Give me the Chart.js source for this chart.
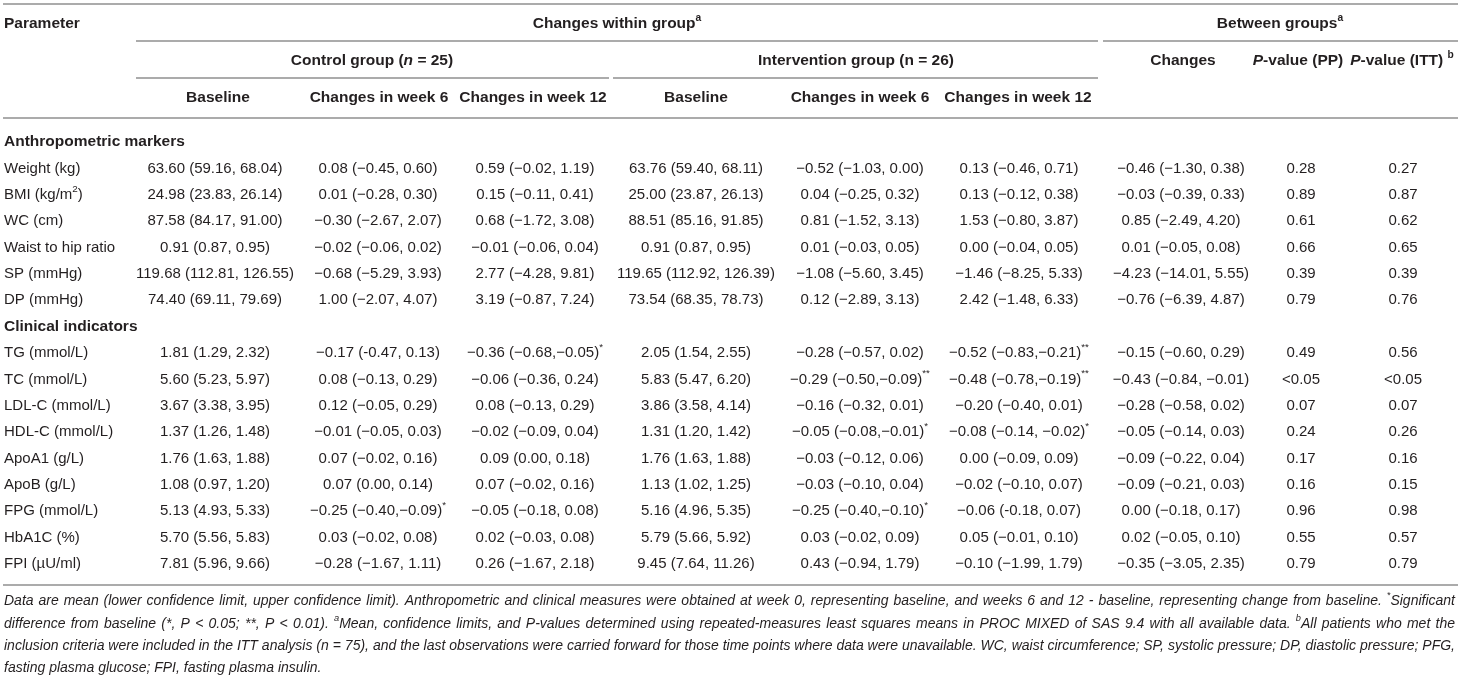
<!DOCTYPE html>
<html>
<head>
<meta charset="utf-8">
<style>
  html, body { margin: 0; background: #fff; }
  canvas { display: block; }
</style>
</head>
<body>
<canvas id="table" width="1461" height="677"></canvas>
<script src="https://cdn.jsdelivr.net/npm/chart.js@4/dist/chart.umd.min.js"></script>
<script>
// rows of the table (section headings are rows too, with no values)
const sections = ["Anthropometric markers", "Clinical indicators"];
const parameters = [
  "Anthropometric markers",
  "Weight (kg)", "BMI (kg/m^{2})", "WC (cm)", "Waist to hip ratio", "SP (mmHg)", "DP (mmHg)",
  "Clinical indicators",
  "TG (mmol/L)", "TC (mmol/L)", "LDL-C (mmol/L)", "HDL-C (mmol/L)", "ApoA1 (g/L)", "ApoB (g/L)",
  "FPG (mmol/L)", "HbA1C (%)", "FPI (\u00b5U/ml)"
];

// mean (lower, upper) per column, ^{} marks superscript
const ctrlBaseline = [null,
  "63.60 (59.16, 68.04)", "24.98 (23.83, 26.14)", "87.58 (84.17, 91.00)", "0.91 (0.87, 0.95)",
  "119.68 (112.81, 126.55)", "74.40 (69.11, 79.69)", null,
  "1.81 (1.29, 2.32)", "5.60 (5.23, 5.97)", "3.67 (3.38, 3.95)", "1.37 (1.26, 1.48)",
  "1.76 (1.63, 1.88)", "1.08 (0.97, 1.20)", "5.13 (4.93, 5.33)", "5.70 (5.56, 5.83)", "7.81 (5.96, 9.66)"];
const ctrlWeek6 = [null,
  "0.08 (\u22120.45, 0.60)", "0.01 (\u22120.28, 0.30)", "\u22120.30 (\u22122.67, 2.07)", "\u22120.02 (\u22120.06, 0.02)",
  "\u22120.68 (\u22125.29, 3.93)", "1.00 (\u22122.07, 4.07)", null,
  "\u22120.17 (-0.47, 0.13)", "0.08 (\u22120.13, 0.29)", "0.12 (\u22120.05, 0.29)", "\u22120.01 (\u22120.05, 0.03)",
  "0.07 (\u22120.02, 0.16)", "0.07 (0.00, 0.14)", "\u22120.25 (\u22120.40,\u22120.09)^{*}", "0.03 (\u22120.02, 0.08)",
  "\u22120.28 (\u22121.67, 1.11)"];
const ctrlWeek12 = [null,
  "0.59 (\u22120.02, 1.19)", "0.15 (\u22120.11, 0.41)", "0.68 (\u22121.72, 3.08)", "\u22120.01 (\u22120.06, 0.04)",
  "2.77 (\u22124.28, 9.81)", "3.19 (\u22120.87, 7.24)", null,
  "\u22120.36 (\u22120.68,\u22120.05)^{*}", "\u22120.06 (\u22120.36, 0.24)", "0.08 (\u22120.13, 0.29)", "\u22120.02 (\u22120.09, 0.04)",
  "0.09 (0.00, 0.18)", "0.07 (\u22120.02, 0.16)", "\u22120.05 (\u22120.18, 0.08)", "0.02 (\u22120.03, 0.08)",
  "0.26 (\u22121.67, 2.18)"];
const intBaseline = [null,
  "63.76 (59.40, 68.11)", "25.00 (23.87, 26.13)", "88.51 (85.16, 91.85)", "0.91 (0.87, 0.95)",
  "119.65 (112.92, 126.39)", "73.54 (68.35, 78.73)", null,
  "2.05 (1.54, 2.55)", "5.83 (5.47, 6.20)", "3.86 (3.58, 4.14)", "1.31 (1.20, 1.42)",
  "1.76 (1.63, 1.88)", "1.13 (1.02, 1.25)", "5.16 (4.96, 5.35)", "5.79 (5.66, 5.92)", "9.45 (7.64, 11.26)"];
const intWeek6 = [null,
  "\u22120.52 (\u22121.03, 0.00)", "0.04 (\u22120.25, 0.32)", "0.81 (\u22121.52, 3.13)", "0.01 (\u22120.03, 0.05)",
  "\u22121.08 (\u22125.60, 3.45)", "0.12 (\u22122.89, 3.13)", null,
  "\u22120.28 (\u22120.57, 0.02)", "\u22120.29 (\u22120.50,\u22120.09)^{**}", "\u22120.16 (\u22120.32, 0.01)", "\u22120.05 (\u22120.08,\u22120.01)^{*}",
  "\u22120.03 (\u22120.12, 0.06)", "\u22120.03 (\u22120.10, 0.04)", "\u22120.25 (\u22120.40,\u22120.10)^{*}", "0.03 (\u22120.02, 0.09)",
  "0.43 (\u22120.94, 1.79)"];
const intWeek12 = [null,
  "0.13 (\u22120.46, 0.71)", "0.13 (\u22120.12, 0.38)", "1.53 (\u22120.80, 3.87)", "0.00 (\u22120.04, 0.05)",
  "\u22121.46 (\u22128.25, 5.33)", "2.42 (\u22121.48, 6.33)", null,
  "\u22120.52 (\u22120.83,\u22120.21)^{**}", "\u22120.48 (\u22120.78,\u22120.19)^{**}", "\u22120.20 (\u22120.40, 0.01)", "\u22120.08 (\u22120.14, \u22120.02)^{*}",
  "0.00 (\u22120.09, 0.09)", "\u22120.02 (\u22120.10, 0.07)", "\u22120.06 (-0.18, 0.07)", "0.05 (\u22120.01, 0.10)",
  "\u22120.10 (\u22121.99, 1.79)"];
const betweenChanges = [null,
  "\u22120.46 (\u22121.30, 0.38)", "\u22120.03 (\u22120.39, 0.33)", "0.85 (\u22122.49, 4.20)", "0.01 (\u22120.05, 0.08)",
  "\u22124.23 (\u221214.01, 5.55)", "\u22120.76 (\u22126.39, 4.87)", null,
  "\u22120.15 (\u22120.60, 0.29)", "\u22120.43 (\u22120.84, \u22120.01)", "\u22120.28 (\u22120.58, 0.02)", "\u22120.05 (\u22120.14, 0.03)",
  "\u22120.09 (\u22120.22, 0.04)", "\u22120.09 (\u22120.21, 0.03)", "0.00 (\u22120.18, 0.17)", "0.02 (\u22120.05, 0.10)",
  "\u22120.35 (\u22123.05, 2.35)"];
const pValuePP = [null, "0.28", "0.89", "0.61", "0.66", "0.39", "0.79", null,
  "0.49", "<0.05", "0.07", "0.24", "0.17", "0.16", "0.96", "0.55", "0.79"];
const pValueITT = [null, "0.27", "0.87", "0.62", "0.65", "0.39", "0.76", null,
  "0.56", "<0.05", "0.07", "0.26", "0.16", "0.15", "0.98", "0.57", "0.79"];

// header texts, _{} marks italic
const groupHeads = ["Changes within group^{a}", "Between groups^{a}"];
const subHeads = ["Control group (_{n} = 25)", "Intervention group (n = 26)", "Changes", "_{P}-value (PP)", "_{P}-value (ITT) ^{b}"];
const colHeads = ["Baseline", "Changes in week 6", "Changes in week 12", "Baseline", "Changes in week 6", "Changes in week 12"];

const notes = [
  "Data are mean (lower confidence limit, upper confidence limit). Anthropometric and clinical measures were obtained at week 0, representing baseline, and weeks 6 and 12 - baseline, representing change from baseline. ^{*}Significant",
  "difference from baseline (*, P < 0.05; **, P < 0.01). ^{a}Mean, confidence limits, and P-values determined using repeated-measures least squares means in PROC MIXED of SAS 9.4 with all available data. ^{b}All patients who met the",
  "inclusion criteria were included in the ITT analysis (n = 75), and the last observations were carried forward for those time points where data were unavailable. WC, waist circumference; SP, systolic pressure; DP, diastolic pressure; PFG,",
  "fasting plasma glucose; FPI, fasting plasma insulin."
];

// layout
const FAMILY = '"Liberation Sans", Arial, Helvetica, sans-serif';
const INK = "#231f20";
const RULE = "#ababab";
const W = 1461, H = 677;
const valueCols = [ctrlBaseline, ctrlWeek6, ctrlWeek12, intBaseline, intWeek6, intWeek12, betweenChanges, pValuePP, pValueITT];
const colCenter = [215, 378, 535, 696, 860, 1019, 1181, 1301, 1403];
const colHeadCenter = [218, 379, 533, 696, 860, 1018];
const subHeadCenter = [372, 856, 1183, 1298, 1402];
const groupHeadCenter = [617, 1280];
const rowTop = 128.8, rowStep = 26.375;
const noteY = [601, 624, 646, 668];

function tokens(s) {
  const out = [];
  const re = /\^\{(.*?)\}|_\{(.*?)\}/g;
  let last = 0, m;
  while ((m = re.exec(s))) {
    if (m.index > last) out.push({ t: s.slice(last, m.index) });
    if (m[1] !== undefined) out.push({ t: m[1], sup: true });
    else out.push({ t: m[2], it: true });
    last = re.lastIndex;
  }
  if (last < s.length) out.push({ t: s.slice(last) });
  return out;
}

// draws mixed text; o.width stretches the spaces so the line fills that width
function drawRich(ctx, s, x, y, o) {
  const parts = tokens(s);
  const font = (p) => {
    const size = p.sup ? o.size * 0.66 : o.size;
    return (o.italic || p.it ? "italic " : "") + (o.bold ? "bold " : "") + size + "px " + FAMILY;
  };
  let total = 0, spaces = 0;
  parts.forEach(p => {
    ctx.font = font(p);
    p.w = ctx.measureText(p.t).width;
    total += p.w;
    spaces += (p.t.match(/ /g) || []).length;
  });
  const extra = o.width && spaces ? (o.width - total) / spaces : 0;
  let cx = o.align === "center" ? x - total / 2 : x;
  ctx.textAlign = "left";
  ctx.textBaseline = "middle";
  ctx.fillStyle = INK;
  parts.forEach(p => {
    ctx.font = font(p);
    const py = p.sup ? y - o.size * 0.38 : y;
    if (!extra) {
      ctx.fillText(p.t, cx, py);
      cx += p.w;
      return;
    }
    p.t.split(/( )/).forEach(seg => {
      if (!seg) return;
      if (seg !== " ") ctx.fillText(seg, cx, py);
      cx += ctx.measureText(seg).width + (seg === " " ? extra : 0);
    });
  });
}

function rule(ctx, x1, x2, y) {
  ctx.beginPath();
  ctx.moveTo(x1, y);
  ctx.lineTo(x2, y);
  ctx.stroke();
}

const tablePlugin = {
  id: "tableText",
  beforeDraw(chart) {
    const ctx = chart.ctx;
    ctx.save();
    ctx.fillStyle = "#fff";
    ctx.fillRect(0, 0, W, H);
    ctx.strokeStyle = RULE;
    ctx.lineWidth = 2;
    rule(ctx, 3, 1458, 4);
    rule(ctx, 136, 1098, 41);
    rule(ctx, 1103, 1458, 41);
    rule(ctx, 136, 609, 78);
    rule(ctx, 613, 1098, 78);
    rule(ctx, 3, 1458, 118);
    rule(ctx, 3, 1458, 585);

    const hs = 15.5;
    drawRich(ctx, "Parameter", 4, 24, { size: hs, bold: true });
    groupHeads.forEach((t, i) => drawRich(ctx, t, groupHeadCenter[i], 24, { size: hs, bold: true, align: "center" }));
    subHeads.forEach((t, i) => drawRich(ctx, t, subHeadCenter[i], 61, { size: hs, bold: true, align: "center" }));
    colHeads.forEach((t, i) => drawRich(ctx, t, colHeadCenter[i], 98, { size: hs, bold: true, align: "center" }));

    notes.forEach((t, i) => drawRich(ctx, t, 4, noteY[i], {
      size: 14, italic: true, width: i < notes.length - 1 ? 1451 : 0
    }));
    ctx.restore();
  },
  afterDatasetsDraw(chart) {
    const ctx = chart.ctx;
    ctx.save();
    chart.data.datasets.forEach((ds, di) => {
      const meta = chart.getDatasetMeta(di);
      meta.data.forEach((pt, i) => {
        const cell = ds.data[i];
        drawRich(ctx, cell.text, pt.x, pt.y, { size: cell.bold ? 15.5 : 15, bold: cell.bold, align: ds.align });
      });
    });
    ctx.restore();
  }
};

const datasets = [{
  label: "Parameter",
  align: "left",
  data: parameters.map(p => ({ x: 4, y: p, text: p, bold: sections.includes(p) })),
  pointRadius: 0
}];
valueCols.forEach((vals, ci) => {
  datasets.push({
    label: "col" + ci,
    align: "center",
    data: vals.map((v, ri) => v == null ? null : { x: colCenter[ci], y: parameters[ri], text: v })
              .filter(d => d),
    pointRadius: 0
  });
});

new Chart(document.getElementById("table"), {
  type: "scatter",
  data: { datasets },
  plugins: [tablePlugin],
  options: {
    responsive: false,
    animation: false,
    events: [],
    layout: { padding: { top: rowTop, bottom: H - (rowTop + rowStep * parameters.length), left: 0, right: 0 } },
    plugins: { legend: { display: false }, tooltip: { enabled: false } },
    scales: {
      x: { type: "linear", min: 0, max: W, display: false },
      y: { type: "category", labels: parameters, offset: true, display: false, grid: { display: false } }
    }
  }
});
</script>
</body>
</html>
